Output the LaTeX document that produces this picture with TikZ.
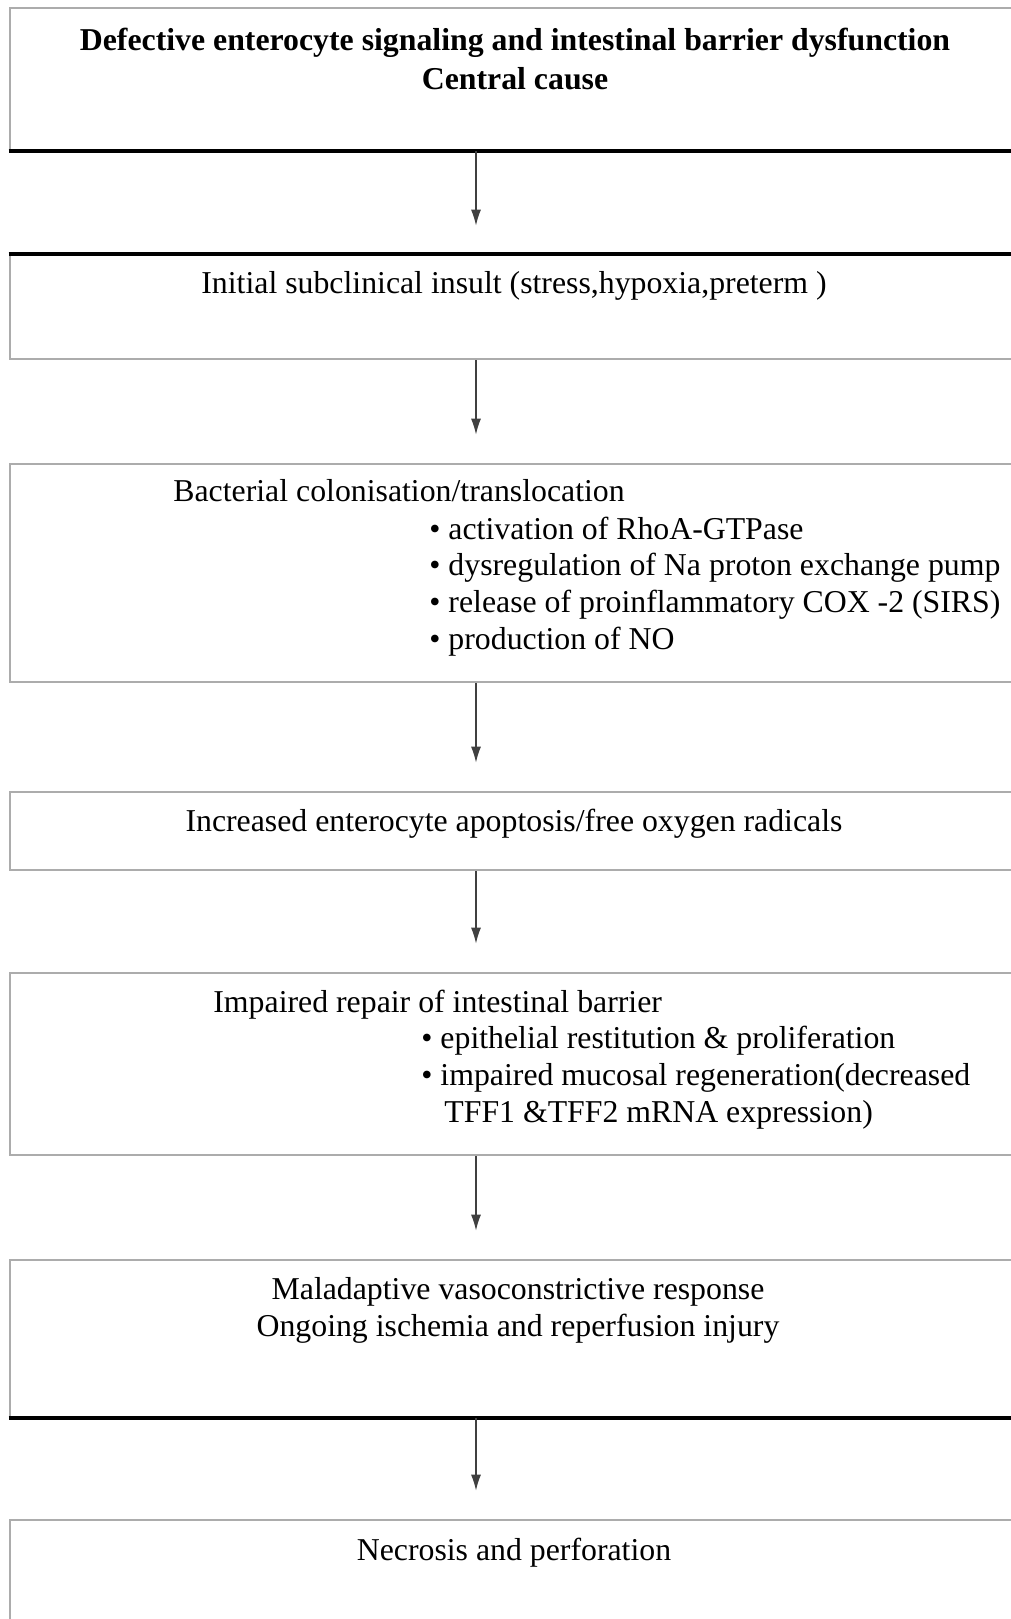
\documentclass[tikz,border=0pt]{standalone}
\usepackage{fontspec}
\setmainfont{Liberation Serif}
\usetikzlibrary{fit}
\usetikzlibrary{arrows.meta}

\begin{document}
\begin{tikzpicture}[x=0.5pt, y=-0.5pt,
    box/.style={draw=gray!65, line width=1.3pt, inner sep=0pt},
    edge/.style={black, line width=2pt},
    txt/.style={inner sep=0pt, font=\fontsize{15.9}{18.3}\selectfont},
    flow/.style={-{Latex[length=8pt,width=5pt]}, draw=black!75, line width=0.7pt, shorten >=14pt}]
    \useasboundingbox (0,0) rectangle (1011,1619);

    \node[box, fit={(10,   8) (1040, 150)}] (b1) {};
    \node[box, fit={(10, 255) (1040, 359)}] (b2) {};
    \node[box, fit={(10, 464) (1040, 682)}] (b3) {};
    \node[box, fit={(10, 792) (1040, 870)}] (b4) {};
    \node[box, fit={(10, 973) (1040,1155)}] (b5) {};
    \node[box, fit={(10,1260) (1040,1417)}] (b6) {};
    \node[box, fit={(10,1520) (1040,1660)}] (b7) {};

    \draw[edge] (b1.south west) -- (b1.south east);
    \draw[edge] (b2.north west) -- (b2.north east);
    \draw[edge] (b6.south west) -- (b6.south east);

    % multi-line nodes: base = baseline of the last line
    \node[txt, anchor=base, align=center, font=\fontsize{15.9}{19.5}\selectfont\bfseries] (t1) at (515, 89) {Defective enterocyte signaling and intestinal barrier dysfunction\\Central cause};
    \node[txt, anchor=base] (t2) at (514, 293) {Initial subclinical insult (stress,hypoxia,preterm )};
    \node[txt, anchor=base west] (t3) at (173, 501) {Bacterial colonisation/translocation};
    \node[txt, anchor=base west, align=left] (t3b) at (429, 649) {• activation of RhoA-GTPase\\• dysregulation of Na proton exchange pump\\• release of proinflammatory COX -2 (SIRS)\\• production of NO};
    \node[txt, anchor=base] (t4) at (514, 831) {Increased enterocyte apoptosis/free oxygen radicals};
    \node[txt, anchor=base west] (t5) at (213, 1012) {Impaired repair of intestinal barrier};
    \node[txt, anchor=base west, align=left] (t5b) at (421, 1122) {• epithelial restitution \& proliferation\\• impaired mucosal regeneration(decreased\\\hspace*{11.5pt}TFF1 \&TFF2 mRNA expression)};
    \node[txt, anchor=base, align=center] (t6) at (518, 1336) {Maladaptive vasoconstrictive response\\Ongoing ischemia and reperfusion injury};
    \node[txt, anchor=base] (t7) at (514, 1560) {Necrosis and perforation};

    \coordinate (ax) at (476, 0);
    \draw[flow] (b1.south -| ax) -- (b2.north -| ax);
    \draw[flow] (b2.south -| ax) -- (b3.north -| ax);
    \draw[flow] (b3.south -| ax) -- (b4.north -| ax);
    \draw[flow] (b4.south -| ax) -- (b5.north -| ax);
    \draw[flow] (b5.south -| ax) -- (b6.north -| ax);
    \draw[flow] (b6.south -| ax) -- (b7.north -| ax);
\end{tikzpicture}
\end{document}
